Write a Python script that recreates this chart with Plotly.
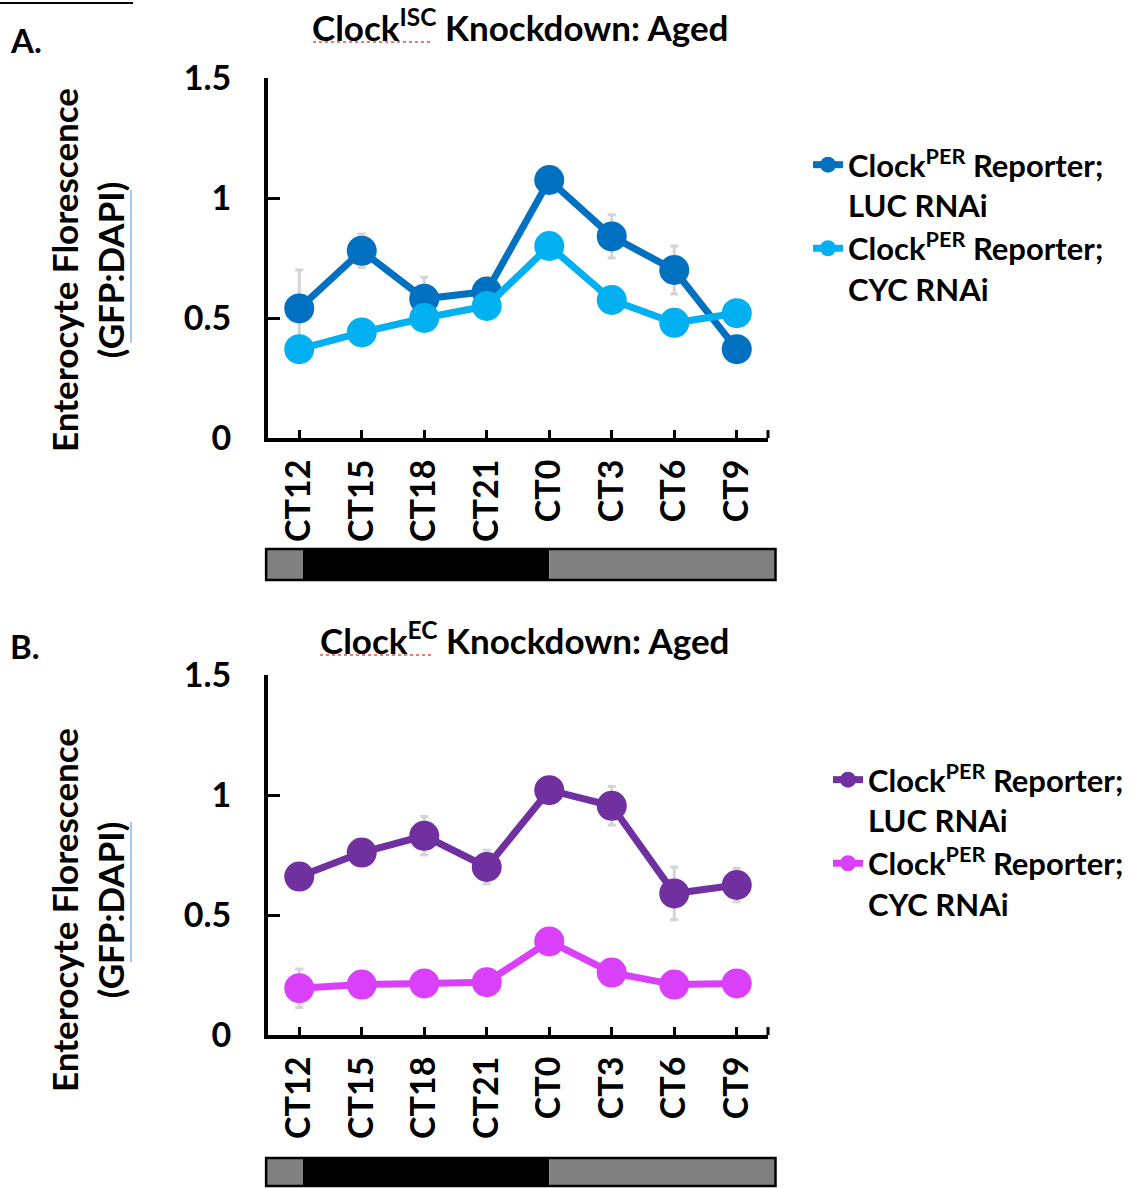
import plotly.graph_objects as go

# ---------------- data ----------------
categories = ["CT12", "CT15", "CT18", "CT21", "CT0", "CT3", "CT6", "CT9"]

a_luc = [0.54, 0.78, 0.58, 0.61, 1.075, 0.84, 0.70, 0.37]
a_luc_err = [0.16, 0.07, 0.09, 0.03, 0.03, 0.09, 0.10, 0.03]
a_cyc = [0.37, 0.44, 0.50, 0.55, 0.80, 0.575, 0.48, 0.52]
a_cyc_err = [0.02, 0.02, 0.02, 0.02, 0.02, 0.02, 0.02, 0.02]

b_luc = [0.66, 0.76, 0.83, 0.70, 1.02, 0.955, 0.59, 0.625]
b_luc_err = [0.03, 0.03, 0.08, 0.07, 0.03, 0.08, 0.11, 0.07]
b_cyc = [0.195, 0.21, 0.215, 0.22, 0.39, 0.26, 0.21, 0.215]
b_cyc_err = [0.08, 0.02, 0.02, 0.02, 0.02, 0.02, 0.02, 0.02]

y_tickvals = [0, 0.5, 1, 1.5]
y_ticktext = ["0", "0.5", "1", "1.5"]

# light/dark phase bar: (fill, start, end) in category units
phases = [("#808080", -0.53, 0.06), ("#000000", 0.06, 4.0), ("#808080", 4.0, 7.62)]

legend_luc = "Clock<sup>PER</sup> Reporter;<br>LUC RNAi"
legend_cyc = "Clock<sup>PER</sup> Reporter;<br>CYC RNAi"

W, H = 1137, 1188
FONT = "Lato"


def px_x(p):
    return p / W


def px_y(p):
    return 1 - p / H


fig = go.Figure()

err_color = "#D4D4D4"


def add_series(xa, ya, vals, errs, color, name, legend):
    fig.add_trace(go.Scatter(
        x=categories, y=vals, name=name, xaxis=xa, yaxis=ya,
        mode="lines+markers",
        line=dict(color=color, width=7),
        marker=dict(color=color, size=30),
        error_y=dict(type="data", array=errs, color=err_color, thickness=3, width=4),
        legend=legend,
    ))


add_series("x", "y", a_luc, a_luc_err, "#0070C0", legend_luc, "legend")
add_series("x", "y", a_cyc, a_cyc_err, "#00B0F0", legend_cyc, "legend")
add_series("x2", "y2", b_luc, b_luc_err, "#7030A0", legend_luc, "legend2")
add_series("x2", "y2", b_cyc, b_cyc_err, "#DA40FA", legend_cyc, "legend2")

xdom = [px_x(268), px_x(768)]
top_dom = [px_y(438), px_y(78)]
bot_dom = [px_y(1035), px_y(675)]

tickfont = dict(family=FONT, size=34, color="black", weight="bold")

xcommon = dict(
    type="category", categoryorder="array", categoryarray=categories,
    range=[-0.5, 7.5], domain=xdom, tickangle=-90,
    showline=True, linewidth=4, linecolor="black",
    ticks="inside", ticklen=8, tickwidth=3, tickcolor="black",
    showgrid=False, zeroline=False, tickfont=tickfont, ticklabelstandoff=4,
    automargin=False,
)
ycommon = dict(
    range=[0, 1.5], tickvals=y_tickvals, ticktext=y_ticktext,
    showline=True, linewidth=4, linecolor="black",
    ticks="inside", ticklen=12, tickwidth=3, tickcolor="black",
    showgrid=False, zeroline=False, tickfont=tickfont, ticklabelstandoff=26,
    automargin=False,
)

shapes = []
annotations = []

for bar_top, bar_bot, xa, ya in [(549, 580, "x", "y"), (1158, 1186, "x2", "y2")]:
    for fill, x0, x1 in phases:
        shapes.append(dict(
            type="rect", xref=f"{xa} domain", yref="paper",
            x0=(x0 + 0.5) / 8, x1=(x1 + 0.5) / 8,
            y0=px_y(bar_bot), y1=px_y(bar_top),
            fillcolor=fill, line=dict(width=0), layer="above",
        ))
    shapes.append(dict(
        type="rect", xref=f"{xa} domain", yref="paper",
        x0=(phases[0][1] + 0.5) / 8, x1=(phases[-1][2] + 0.5) / 8,
        y0=px_y(bar_bot), y1=px_y(bar_top),
        fillcolor="rgba(0,0,0,0)", line=dict(color="black", width=2.5), layer="above",
    ))
    # end tick at right of x axis
    shapes.append(dict(
        type="line", xref=f"{xa} domain", yref=f"{ya} domain",
        x0=1, x1=1, y0=0, y1=0.022, line=dict(color="black", width=3),
    ))

# top-left rule
shapes.append(dict(type="line", xref="paper", yref="paper",
                   x0=0, x1=px_x(133), y0=px_y(3), y1=px_y(3),
                   line=dict(color="black", width=2)))

# y-axis titles with blue cursor marks
for cy, cur0, cur1 in [(270, 190, 343), (910, 822, 962)]:
    annotations.append(dict(
        text="Enterocyte Florescence<br>(GFP:DAPI)", textangle=-90,
        x=px_x(87), y=px_y(cy), xref="paper", yref="paper",
        showarrow=False, font=dict(family=FONT, size=35, color="black", weight="bold"),
        xanchor="center", yanchor="middle",
    ))
    shapes.append(dict(type="line", xref="paper", yref="paper",
                       x0=px_x(131), x1=px_x(131), y0=px_y(cur1), y1=px_y(cur0),
                       line=dict(color="#A9C6F5", width=2)))

# panel labels and titles
for lbl, ly in [("A.", 40), ("B.", 646)]:
    annotations.append(dict(text=lbl, x=px_x(8), y=px_y(ly), xref="paper", yref="paper",
                            showarrow=False, xanchor="left", yanchor="middle",
                            font=dict(family=FONT, size=33, color="black", weight="bold")))

for title, tx, ty, sq0, sq1, sqy in [
    ("Clock<sup>ISC</sup> Knockdown: Aged", 520, 25, 313, 432, 42),
    ("Clock<sup>EC</sup> Knockdown: Aged", 524, 638, 320, 432, 655),
]:
    annotations.append(dict(text=title, x=px_x(tx), y=px_y(ty), xref="paper", yref="paper",
                            showarrow=False, xanchor="center", yanchor="middle",
                            font=dict(family=FONT, size=35, color="black", weight="bold")))
    shapes.append(dict(type="line", xref="paper", yref="paper",
                       x0=px_x(sq0), x1=px_x(sq1), y0=px_y(sqy), y1=px_y(sqy),
                       line=dict(color="#E05050", width=1.5, dash="dot")))

legend_font = dict(family=FONT, size=31, color="black", weight="bold")

fig.update_layout(
    width=W, height=H,
    margin=dict(l=0, r=0, t=0, b=0, pad=0, autoexpand=False),
    paper_bgcolor="white", plot_bgcolor="white",
    font=dict(family=FONT, color="black"),
    xaxis=dict(**xcommon, anchor="y"),
    yaxis=dict(**ycommon, domain=top_dom, anchor="x"),
    xaxis2=dict(**xcommon, anchor="y2"),
    yaxis2=dict(**ycommon, domain=bot_dom, anchor="x2"),
    legend=dict(x=px_x(808), y=px_y(138), xanchor="left", yanchor="top",
                font=legend_font, bgcolor="rgba(0,0,0,0)", valign="top",
                tracegroupgap=14, itemsizing="trace"),
    legend2=dict(x=px_x(828), y=px_y(753), xanchor="left", yanchor="top",
                 font=legend_font, bgcolor="rgba(0,0,0,0)", valign="top",
                 tracegroupgap=14, itemsizing="trace"),
    shapes=shapes,
    annotations=annotations,
    showlegend=True,
)

fig.write_html("out.html")
